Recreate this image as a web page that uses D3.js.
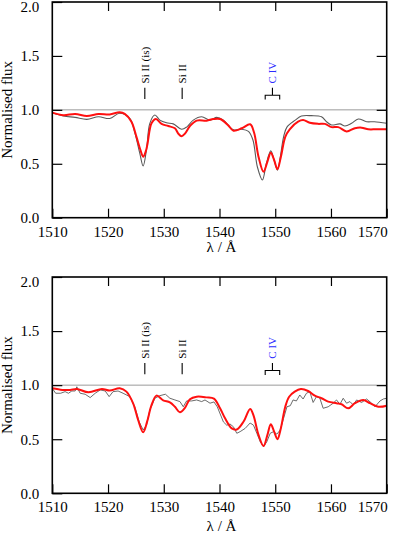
<!DOCTYPE html>
<html>
<head>
<meta charset="utf-8">
<script src="https://cdn.jsdelivr.net/npm/d3@7"></script>
<style>
  html, body { margin: 0; padding: 0; background: #fff; }
  svg { display: block; }
  svg text { font-family: "Liberation Serif", "Times New Roman", "DejaVu Serif", serif !important; }
</style>
</head>
<body>
<svg id="chart" width="396" height="543"></svg>
<script>
// ---------- data ----------
const xTicks = [1510, 1520, 1530, 1540, 1550, 1560, 1570];
const yTicks = [0.0, 0.5, 1.0, 1.5, 2.0];

// Top panel: model (red) and observed (grey, smoothed)
const topRedLambda = [1510,1512,1514.1,1516.2,1518.3,1520.3,1522.1,1523,1524.2,1525.1,1525.8,1526.3,1526.8,1527.1,1527.8,1528.6,1529.6,1530.8,1532,1532.6,1533.2,1533.8,1534.7,1535.9,1537.7,1538.9,1540.1,1541.5,1542.5,1544,1545.5,1546.2,1547,1547.9,1548.6,1549.2,1549.8,1550.4,1551,1551.8,1552.6,1554.1,1555,1556.2,1557.7,1558.9,1560.1,1561.3,1562.8,1564.3,1565.5,1566.7,1568.1,1570];
const topRedFlux   = [0.974,0.95,0.962,0.943,0.962,0.958,0.977,0.962,0.89,0.75,0.63,0.566,0.62,0.69,0.875,0.915,0.869,0.85,0.829,0.78,0.755,0.78,0.85,0.90,0.90,0.915,0.915,0.86,0.807,0.829,0.866,0.79,0.566,0.427,0.52,0.603,0.535,0.45,0.56,0.75,0.82,0.89,0.905,0.88,0.87,0.87,0.84,0.84,0.80,0.83,0.835,0.82,0.82,0.82];

const topGreyLambda = [1510,1512,1514.1,1516.2,1518.3,1520.3,1522.1,1523.9,1524.8,1525.7,1526.3,1526.9,1527.5,1528.4,1529.3,1530.5,1531.7,1533.2,1534.1,1535.3,1536.8,1538.3,1539.5,1540.7,1542.5,1544,1545.2,1546,1546.8,1547.7,1548.4,1549.2,1549.8,1550.4,1550.9,1551.5,1552.1,1553.6,1554.7,1556.5,1558.3,1559.2,1560.1,1561.6,1562.5,1563.7,1564.9,1566.4,1567.8,1570];
const topGreyFlux   = [0.974,0.943,0.93,0.912,0.936,0.92,0.968,0.92,0.79,0.597,0.48,0.63,0.875,0.952,0.905,0.88,0.87,0.82,0.84,0.905,0.936,0.905,0.93,0.905,0.815,0.82,0.80,0.72,0.47,0.35,0.5,0.62,0.535,0.44,0.56,0.75,0.84,0.905,0.943,0.946,0.936,0.89,0.86,0.87,0.85,0.875,0.915,0.89,0.89,0.875];

// Bottom panel: model (red) and observed (grey, noisy)
const botRedLambda = [1510,1511.8,1513.2,1514.4,1516.5,1518.9,1520.3,1522.1,1523.3,1524.5,1525.4,1526.3,1527,1527.8,1528.7,1529.9,1531.1,1532,1532.9,1533.8,1534.7,1535.9,1537.7,1539,1540.1,1541,1542.2,1543.1,1544.3,1545.5,1546.1,1547,1547.9,1548.6,1549.2,1549.8,1550.4,1551,1551.8,1552.5,1553.5,1554.6,1555.9,1557.1,1558.3,1559.5,1561,1561.9,1563.1,1564.3,1565.8,1567,1568.5,1570];
const botRedFlux   = [0.971,0.956,0.956,0.965,0.934,0.965,0.95,0.971,0.94,0.832,0.678,0.564,0.66,0.815,0.903,0.86,0.84,0.80,0.749,0.79,0.87,0.893,0.887,0.875,0.786,0.693,0.60,0.59,0.662,0.78,0.72,0.54,0.437,0.54,0.638,0.57,0.50,0.60,0.80,0.893,0.94,0.964,0.946,0.903,0.879,0.848,0.833,0.823,0.786,0.833,0.863,0.833,0.80,0.81];

const botGreyLambda = [1510,1510.6,1511.5,1512.3,1512.9,1513.5,1514.1,1514.4,1515,1515.9,1516.8,1517.7,1518.6,1519.5,1520.2,1520.9,1521.8,1522.7,1523.9,1524.8,1525.6,1526.3,1526.9,1527.5,1528.4,1529.3,1530.3,1531.1,1532,1532.9,1533.5,1534.1,1535,1535.9,1536.8,1537.4,1538.3,1539,1539.6,1540.7,1541.3,1541.9,1542.5,1543.1,1543.7,1544.6,1545.5,1546.1,1546.7,1547.3,1547.9,1548.5,1549.1,1549.7,1550.3,1550.9,1551.5,1552.1,1552.7,1553.2,1553.8,1554.4,1555,1555.6,1556.2,1556.8,1557.4,1558,1558.6,1559.5,1560.4,1561,1561.6,1562.2,1562.8,1563.4,1564,1564.6,1565.5,1566.4,1567.3,1567.9,1568.8,1569.4,1570];
const botGreyFlux   = [0.97,0.925,0.925,0.94,0.925,0.946,0.946,0.985,0.925,0.916,0.885,0.925,0.956,0.946,0.894,0.94,0.946,0.925,0.894,0.80,0.66,0.585,0.63,0.77,0.879,0.903,0.916,0.879,0.863,0.848,0.80,0.854,0.854,0.863,0.848,0.863,0.833,0.845,0.80,0.66,0.63,0.64,0.615,0.555,0.57,0.60,0.65,0.63,0.555,0.478,0.43,0.478,0.555,0.57,0.547,0.586,0.693,0.80,0.81,0.863,0.854,0.909,0.872,0.925,0.94,0.84,0.894,0.88,0.786,0.80,0.833,0.863,0.823,0.879,0.833,0.848,0.817,0.863,0.84,0.872,0.833,0.80,0.854,0.872,0.879];

// Line identifications
const lineLabels  = ["Si II (is)", "Si II", "C IV"];
const lineLambda  = [1526.6, 1533.3, 1549.5];
const lineColours = ["#000000", "#000000", "#2b2bff"];
const civDoublet  = [1548.2, 1550.8];

// ---------- layout ----------
const SERIF = '"Liberation Serif", "Times New Roman", "DejaVu Serif", serif';
const svg = d3.select("#chart");
const plotLeft = 52.3, plotRight = 386.7;
const panels = [
  { top: 2,   bottom: 217.7, red: [topRedLambda, topRedFlux],  grey: [topGreyLambda, topGreyFlux],  greyW: 1.1, titleBase: 252 },
  { top: 277, bottom: 493.3, red: [botRedLambda, botRedFlux],  grey: [botGreyLambda, botGreyFlux],  greyW: 0.9, titleBase: 531 }
];
const FONT = 15;

const x = d3.scaleLinear().domain([1510, 1570]).range([plotLeft, plotRight]);

panels.forEach((p, i) => {
  const y = d3.scaleLinear().domain([0, 2]).range([p.bottom, p.top]);
  const g = svg.append("g").style("font-family", SERIF);

  const clipId = "clip" + i;
  svg.append("clipPath").attr("id", clipId).append("rect")
    .attr("x", plotLeft).attr("y", p.top)
    .attr("width", plotRight - plotLeft).attr("height", p.bottom - p.top);

  // unity line
  g.append("line")
    .attr("x1", plotLeft).attr("x2", plotRight)
    .attr("y1", y(1)).attr("y2", y(1))
    .attr("stroke", "#9a9a9a").attr("stroke-width", 1);

  const line = d3.line().x(d => x(d[0])).y(d => y(d[1])).curve(d3.curveCatmullRom.alpha(0.5));
  const lineLin = d3.line().x(d => x(d[0])).y(d => y(d[1]));

  const greyPts = d3.zip(p.grey[0], p.grey[1]);
  const redPts = d3.zip(p.red[0], p.red[1]);

  g.append("path").datum(greyPts)
    .attr("clip-path", `url(#${clipId})`)
    .attr("fill", "none").attr("stroke", "#5a5a5a").attr("stroke-width", p.greyW)
    .attr("d", i === 0 ? line : lineLin);

  g.append("path").datum(redPts)
    .attr("clip-path", `url(#${clipId})`)
    .attr("fill", "none").attr("stroke", "#ff1010").attr("stroke-width", 2)
    .attr("d", line);

  // axes
  const ax = g.append("g").attr("transform", `translate(0,${p.bottom})`)
    .call(d3.axisBottom(x).tickValues(xTicks).tickSize(-9).tickPadding(8.5).tickFormat(d3.format("d")));
  const at = g.append("g").attr("transform", `translate(0,${p.top})`)
    .call(d3.axisTop(x).tickValues(xTicks.slice(1, -1)).tickSize(-9).tickFormat(""));
  const al = g.append("g").attr("transform", `translate(${plotLeft},0)`)
    .call(d3.axisLeft(y).tickValues(yTicks).tickSize(-10).tickPadding(13).tickFormat(d3.format(".1f")));
  const ar = g.append("g").attr("transform", `translate(${plotRight},0)`)
    .call(d3.axisRight(y).tickValues([0.5, 1.0, 1.5]).tickSize(-10).tickFormat(""));

  [ax, at, al, ar].forEach(a => {
    a.attr("font-family", null);
    a.select(".domain").remove();
    a.selectAll(".tick line").attr("stroke", "#000").attr("stroke-width", 1.2);
    a.selectAll("text").style("font-family", SERIF).attr("font-size", FONT).attr("fill", "#000");
  });
  // last x label kept inside the frame
  ax.selectAll(".tick").filter(d => d === 1570).select("text").attr("text-anchor", "end").attr("x", 0.5);
  // top y label nudged down inside the frame
  al.selectAll(".tick").filter(d => d === 2).select("text").attr("dy", "0.65em");

  // frame
  g.append("rect")
    .attr("x", plotLeft).attr("y", p.top)
    .attr("width", plotRight - plotLeft).attr("height", p.bottom - p.top)
    .attr("fill", "none").attr("stroke", "#000").attr("stroke-width", 1.6);

  // axis titles
  g.append("text")
    .attr("x", (plotLeft + plotRight) / 2 + 2).attr("y", p.titleBase)
    .attr("text-anchor", "middle").attr("font-size", FONT)
    .style("font-family", SERIF)
    .text("λ / Å");
  g.append("text")
    .attr("transform", `translate(12,${(p.top + p.bottom) / 2}) rotate(-90)`)
    .attr("text-anchor", "middle").attr("font-size", FONT)
    .style("font-family", SERIF)
    .text("Normalised flux");

  // line identifications
  lineLabels.forEach((lab, k) => {
    const lx = x(lineLambda[k]);
    g.append("text")
      .attr("transform", `translate(${lx},${y(1.245)}) rotate(-90)`)
      .attr("dy", "0.35em")
      .attr("font-size", 11).attr("fill", lineColours[k])
      .style("font-family", SERIF)
      .text(lab);
    if (lab === "C IV") {
      const ya = y(1.205), yb = y(1.135), yc = y(1.095);
      const x1 = x(civDoublet[0]), x2 = x(civDoublet[1]);
      g.append("path")
        .attr("d", `M${lx},${ya}V${yb}M${x1},${yc}V${yb}H${x2}V${yc}`)
        .attr("fill", "none").attr("stroke", "#000").attr("stroke-width", 1.1);
    } else {
      g.append("line")
        .attr("x1", lx).attr("x2", lx)
        .attr("y1", y(1.205)).attr("y2", y(1.10))
        .attr("stroke", "#000").attr("stroke-width", 1.1);
    }
  });
});
</script>
</body>
</html>
